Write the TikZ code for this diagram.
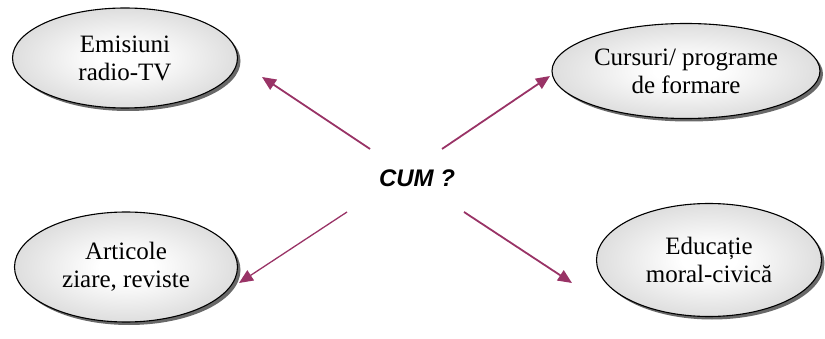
\documentclass[tikz,border=0pt]{standalone}
\usepackage{fontspec}
\setmainfont{Liberation Serif}
\newfontfamily\arialfont{Liberation Sans}
\usetikzlibrary{shapes.geometric,shadows,arrows.meta}
\pgfdeclareradialshading{ellshade}{\pgfpoint{0bp}{0bp}}{color(0bp)=(white); color(6bp)=(white); color(50bp)=(black!30); color(72bp)=(black!30)}
\definecolor{plum}{HTML}{993366}
\tikzset{
  bubble/.style={ellipse, draw=black, line width=1.1pt, shading=ellshade,
    inner sep=0pt, align=center, font=\fontsize{25}{28}\selectfont,
    drop shadow={shadow xshift=3pt, shadow yshift=-3pt, fill=black!65, opacity=0.9}},
  arr/.style={draw=plum, line width=1.8pt, -{Triangle[length=14pt,width=12pt]}},
  arrthin/.style={draw=plum, line width=1.3pt, -{Triangle[length=14pt,width=12pt]}}
}
\begin{document}
\begin{tikzpicture}[x=1pt,y=-1pt]
\useasboundingbox (0,0) rectangle (825,339);
\node[bubble, minimum width=225pt, minimum height=100pt] (emis) at (125,58) {Emisiuni\\radio-TV};
\node[bubble, minimum width=268pt, minimum height=95pt] (curs) at (686,71) {Cursuri/ programe\\de formare};
\node[bubble, minimum width=223pt, minimum height=110pt] (art) at (126,267) {Articole\\ziare, reviste};
\node[bubble, minimum width=225pt, minimum height=113pt] (edu) at (709,260) {Educație\\moral-civică};
\node[font=\arialfont\bfseries\itshape\fontsize{24}{26}\selectfont] (cum) at (417,178) {CUM ?};
\coordinate (a1s) at (370,149); \coordinate (a1e) at (262,77);
\coordinate (a2s) at (442,149); \coordinate (a2e) at (550,76);
\coordinate (a3s) at (347,212); \coordinate (a3e) at (239,283);
\coordinate (a4s) at (464,212); \coordinate (a4e) at (572,283);
\draw[arr] (a1s) -- (a1e);
\draw[arr] (a2s) -- (a2e);
\draw[arrthin] (a3s) -- (a3e);
\draw[arr] (a4s) -- (a4e);
\end{tikzpicture}
\end{document}
